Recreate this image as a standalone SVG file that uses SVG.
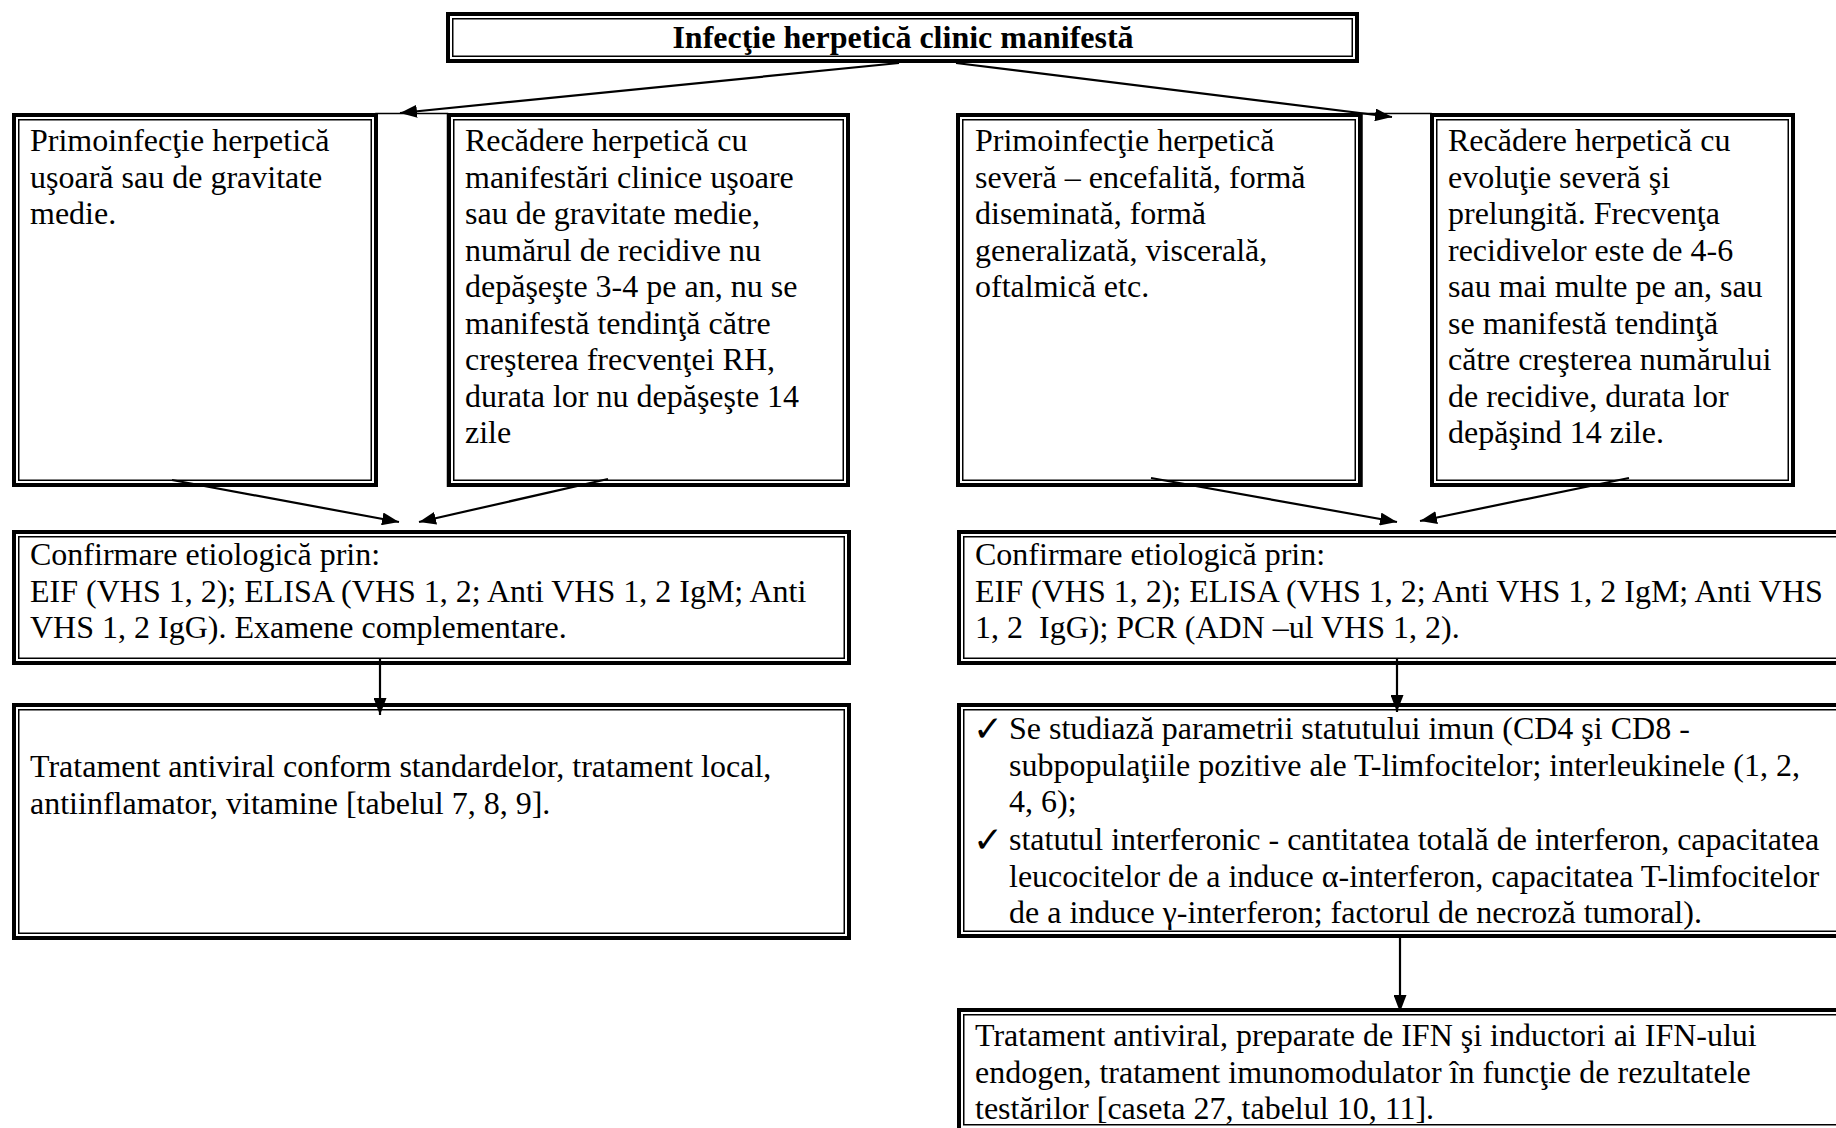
<svg xmlns="http://www.w3.org/2000/svg" width="1836" height="1128" viewBox="0 0 1836 1128">
<style>
  .thick{fill:#fff;stroke:#000;stroke-width:4}
  .thin{fill:none;stroke:#000;stroke-width:1.5}
  .t{font-family:"Liberation Serif","Times New Roman",serif;font-size:32px;fill:#000}
  .title{font-weight:bold;text-anchor:middle}
  .chk{font-family:"DejaVu Sans","Liberation Serif",sans-serif;font-size:36px;fill:#000}
  .conn{stroke:#000;stroke-width:2.2;fill:none;marker-end:url(#arr)}
  .frame{stroke:#000;stroke-width:1.5;fill:none}
</style>
<defs>
  <marker id="arr" markerUnits="userSpaceOnUse" markerWidth="17" markerHeight="13" refX="17" refY="6.5" orient="auto">
    <path d="M0,0 L17,6.5 L0,13 Z" fill="#000"/>
  </marker>
</defs>
<rect width="1836" height="1128" fill="#fff"/>

<g id="frames">
  <path class="frame" d="M376,487 V113.5 H447.5 V487"/>
  <path class="frame" d="M1362,487 V113.5 H1431 V487"/>
</g>

<g id="n-top">
  <rect class="thick" x="448" y="14" width="909" height="47"/>
  <rect class="thin" x="452.75" y="18.75" width="899.5" height="37.5"/>
  <text class="t title" x="903" y="48">Infecţie herpetică clinic manifestă</text>
</g>

<g id="n-b1">
  <rect class="thick" x="14" y="115" width="362" height="370"/>
  <rect class="thin" x="18.75" y="119.75" width="352.5" height="360.5"/>
  <text class="t"><tspan x="30" y="151">Primoinfecţie herpetică</tspan><tspan x="30" y="187.5">uşoară sau de gravitate</tspan><tspan x="30" y="224">medie.</tspan></text>
</g>

<g id="n-b2">
  <rect class="thick" x="449" y="115" width="399" height="370"/>
  <rect class="thin" x="453.75" y="119.75" width="389.5" height="360.5"/>
  <text class="t"><tspan x="465" y="151">Recădere herpetică cu</tspan><tspan x="465" y="187.5">manifestări clinice uşoare</tspan><tspan x="465" y="224">sau de gravitate medie,</tspan><tspan x="465" y="260.5">numărul de recidive nu</tspan><tspan x="465" y="297">depăşeşte 3-4 pe an, nu se</tspan><tspan x="465" y="333.5">manifestă tendinţă către</tspan><tspan x="465" y="370">creşterea frecvenţei RH,</tspan><tspan x="465" y="406.5">durata lor nu depăşeşte 14</tspan><tspan x="465" y="443">zile</tspan></text>
</g>

<g id="n-b3">
  <rect class="thick" x="958" y="115" width="402" height="370"/>
  <rect class="thin" x="962.75" y="119.75" width="392.5" height="360.5"/>
  <text class="t"><tspan x="975" y="151">Primoinfecţie herpetică</tspan><tspan x="975" y="187.5">severă – encefalită, formă</tspan><tspan x="975" y="224">diseminată, formă</tspan><tspan x="975" y="260.5">generalizată, viscerală,</tspan><tspan x="975" y="297">oftalmică etc.</tspan></text>
</g>

<g id="n-b4">
  <rect class="thick" x="1432" y="115" width="361" height="370"/>
  <rect class="thin" x="1436.75" y="119.75" width="351.5" height="360.5"/>
  <text class="t"><tspan x="1448" y="151">Recădere herpetică cu</tspan><tspan x="1448" y="187.5">evoluţie severă şi</tspan><tspan x="1448" y="224">prelungită. Frecvenţa</tspan><tspan x="1448" y="260.5">recidivelor este de 4-6</tspan><tspan x="1448" y="297">sau mai multe pe an, sau</tspan><tspan x="1448" y="333.5">se manifestă tendinţă</tspan><tspan x="1448" y="370">către creşterea numărului</tspan><tspan x="1448" y="406.5">de recidive, durata lor</tspan><tspan x="1448" y="443">depăşind 14 zile.</tspan></text>
</g>

<g id="n-c1">
  <rect class="thick" x="14" y="532" width="835" height="131"/>
  <rect class="thin" x="18.75" y="536.75" width="825.5" height="121.5"/>
  <text class="t"><tspan x="30" y="565">Confirmare etiologică prin:</tspan><tspan x="30" y="601.5">EIF (VHS 1, 2); ELISA (VHS 1, 2; Anti VHS 1, 2 IgM; Anti</tspan><tspan x="30" y="638">VHS 1, 2 IgG). Examene complementare.</tspan></text>
</g>

<g id="n-c2">
  <rect class="thick" x="959" y="532" width="895" height="131"/>
  <rect class="thin" x="963.75" y="536.75" width="885.5" height="121.5"/>
  <text class="t"><tspan x="975" y="565">Confirmare etiologică prin:</tspan><tspan x="975" y="601.5">EIF (VHS 1, 2); ELISA (VHS 1, 2; Anti VHS 1, 2 IgM; Anti VHS</tspan><tspan x="975" y="638">1, 2&#160; IgG); PCR (ADN –ul VHS 1, 2).</tspan></text>
</g>

<g id="n-t1">
  <rect class="thick" x="14" y="705" width="835" height="233"/>
  <rect class="thin" x="18.75" y="709.75" width="825.5" height="223.5"/>
  <text class="t"><tspan x="30" y="777">Tratament antiviral conform standardelor, tratament local,</tspan><tspan x="30" y="813.5">antiinflamator, vitamine [tabelul 7, 8, 9].</tspan></text>
</g>

<g id="n-k">
  <rect class="thick" x="959" y="705" width="895" height="231"/>
  <rect class="thin" x="963.75" y="709.75" width="885.5" height="221.5"/>
  <text class="chk" x="973" y="741">✓</text>
  <text class="chk" x="973" y="852">✓</text>
  <text class="t"><tspan x="1009" y="739">Se studiază parametrii statutului imun (CD4 şi CD8 -</tspan><tspan x="1009" y="775.5">subpopulaţiile pozitive ale T-limfocitelor; interleukinele (1, 2,</tspan><tspan x="1009" y="812">4, 6);</tspan><tspan x="1009" y="850">statutul interferonic - cantitatea totală de interferon, capacitatea</tspan><tspan x="1009" y="886.5">leucocitelor de a induce α-interferon, capacitatea T-limfocitelor</tspan><tspan x="1009" y="923">de a induce γ-interferon; factorul de necroză tumoral).</tspan></text>
</g>

<g id="n-f">
  <rect class="thick" x="959" y="1010" width="895" height="130"/>
  <rect class="thin" x="963.75" y="1014.75" width="885.5" height="110"/>
  <text class="t"><tspan x="975" y="1046">Tratament antiviral, preparate de IFN şi inductori ai IFN-ului</tspan><tspan x="975" y="1082.5">endogen, tratament imunomodulator în funcţie de rezultatele</tspan><tspan x="975" y="1119">testărilor [caseta 27, tabelul 10, 11].</tspan></text>
</g>

<g id="connectors">
  <line class="conn" x1="899" y1="63" x2="400" y2="113"/>
  <line class="conn" x1="956" y1="63" x2="1392" y2="117"/>
  <line class="conn" x1="172" y1="480" x2="399" y2="522"/>
  <line class="conn" x1="608" y1="479" x2="419" y2="522"/>
  <line class="conn" x1="1151" y1="478" x2="1397" y2="522"/>
  <line class="conn" x1="1629" y1="478" x2="1420" y2="521"/>
  <line class="conn" x1="380" y1="658" x2="380" y2="715"/>
  <line class="conn" x1="1397" y1="658" x2="1397" y2="712"/>
  <line class="conn" x1="1400" y1="936" x2="1400" y2="1012"/>
</g>
</svg>
